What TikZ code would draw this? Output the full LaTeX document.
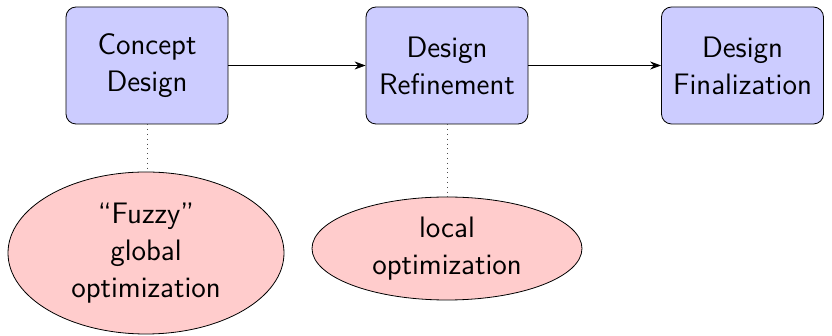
\documentclass[tikz,border=0pt]{standalone}
\usetikzlibrary{shapes.geometric,arrows.meta}
\begin{document}
\begin{tikzpicture}[x=0.5pt,y=-0.5pt,
  stage/.style={draw, rounded corners=5pt, fill=blue!20, align=center,
    minimum width=81pt, minimum height=58.5pt,
    font=\sffamily\fontsize{14.8}{18.5}\selectfont},
  method/.style={draw, ellipse, fill=red!20, align=center, inner sep=0pt,
    font=\sffamily\fontsize{14.8}{18.5}\selectfont},
  flow/.style={-{Stealth[length=5.5pt,width=4pt]}},
  link/.style={dotted, draw=black!70}]
\useasboundingbox (0,0) rectangle (832,336);
\node[stage] (concept) at (147,65.5) {Concept\\Design};
\node[stage] (refine) at (447,65.5) {Design\\Refinement};
\node[stage] (final) at (742.5,65.5) {Design\\Finalization};
\node[method, minimum width=138pt, minimum height=81pt] (global) at (146,253)
  {``Fuzzy''\\global\\optimization};
\node[method, minimum width=135pt, minimum height=51.5pt] (local) at (447,248.5)
  {local\\optimization};
\draw[flow] (concept) -- (refine);
\draw[flow] (refine) -- (final);
\draw[link] (concept.south) -- (concept.south |- global.north);
\draw[link] (refine) -- (local);
\end{tikzpicture}
\end{document}
